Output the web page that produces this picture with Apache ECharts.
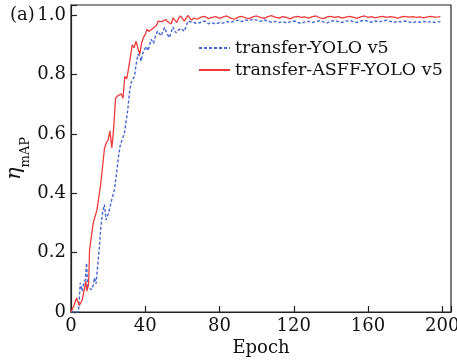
<!DOCTYPE html>
<html>
<head>
<meta charset="utf-8">
<script src="https://cdn.jsdelivr.net/npm/echarts@6/dist/echarts.min.js"></script>
<style>
  html, body {margin: 0; padding: 0; background: #fff;}
  #chart {width: 457px; height: 360px;}
</style>
</head>
<body>
<div id="chart"></div>
<script>
// transfer-ASFF-YOLO v5 (red, solid)
const asffEpoch = [0, 1.5, 3, 4.5, 6, 7, 8, 8.5, 9, 9.5, 10, 12, 14, 16, 17, 18, 19, 20, 21, 22, 23, 24, 25, 26, 27, 28, 29, 30, 31, 32, 33, 34, 35, 36, 37, 38, 39, 40, 41, 42, 43, 44, 45, 46, 47, 48, 49, 50, 51, 52, 53, 54, 55, 56, 57, 58, 59, 60, 61, 62, 63, 64, 65,
  66, 68, 70, 72, 74, 76, 78, 80, 82, 84, 86, 88, 90, 92, 94, 96, 98, 100, 102, 104, 106, 108, 110, 112, 114, 116, 118, 120, 122, 124, 126, 128, 130, 132, 134, 136, 138, 140, 142, 144, 146, 148, 150, 152, 154, 156, 158, 160, 162, 164, 166, 168, 170, 172, 174, 176, 178, 180, 182, 184, 186, 188, 190, 192, 194, 196, 198, 199];
const asffMap = [0, 0.02, 0.047, 0.022, 0.04, 0.036, 0.103, 0.07, 0.064, 0.095, 0.21, 0.30, 0.345, 0.43, 0.49, 0.55, 0.57, 0.58, 0.61, 0.553, 0.62, 0.72, 0.727, 0.73, 0.735, 0.72, 0.794, 0.785, 0.82, 0.86, 0.90, 0.89, 0.912, 0.89, 0.867, 0.905, 0.924, 0.935, 0.952, 0.945, 0.94, 0.955, 0.96, 0.965, 0.98, 0.975, 0.978, 0.973, 0.985, 0.978, 0.98, 0.97, 0.991, 0.982, 0.975, 0.99, 0.997, 0.988, 0.98, 0.99, 0.999, 0.99, 0.983,
  0.990, 0.986, 0.993, 0.996, 0.988, 0.992, 0.995, 0.989, 0.994, 0.997, 0.990, 0.986, 0.993, 0.996, 0.991, 0.988, 0.994, 0.997, 0.992, 0.989, 0.995, 0.998, 0.993, 0.990, 0.995, 0.992, 0.987, 0.993, 0.996, 0.992, 0.994, 0.990, 0.995, 0.997, 0.991, 0.988, 0.994, 0.996, 0.992, 0.995, 0.990, 0.993, 0.996, 0.993, 0.989, 0.994, 0.997, 0.992, 0.995, 0.991, 0.994, 0.996, 0.992, 0.995, 0.993, 0.990, 0.994, 0.996, 0.993, 0.995, 0.992, 0.994, 0.991, 0.994, 0.996, 0.993, 0.994, 0.995];

// transfer-YOLO v5 (blue, dashed)
const yoloEpoch = [0, 2, 4, 5, 6, 6.6, 7.7, 8.4, 9, 10, 11, 12, 12.6, 13.5, 14.4, 15.3, 16, 17, 18, 18.9, 20, 20.7, 22, 23.4, 24.6, 25.5, 26.4, 27.5, 28.8, 30.6, 31.5, 32.4, 34.2, 35, 36, 37, 37.8, 38.5, 40.5, 41.5, 43.2, 44.5, 45.5, 46.7, 48.5, 50.4, 51.5, 53, 54.9, 56.6, 58, 59.4, 61, 63,
  64, 66, 68, 70, 72, 74, 76, 78, 80, 82, 84, 86, 88, 90, 92, 94, 96, 98, 100, 102, 104, 106, 108, 110, 112, 114, 116, 118, 120, 122, 124, 126, 128, 130, 132, 134, 136, 138, 140, 142, 144, 146, 148, 150, 152, 154, 156, 158, 160, 162, 164, 166, 168, 170, 172, 174, 176, 178, 180, 182, 184, 186, 188, 190, 192, 194, 196, 198, 199];
const yoloMap = [0, 0, 0, 0.098, 0.07, 0.09, 0.109, 0.165, 0.086, 0.08, 0.075, 0.09, 0.115, 0.095, 0.10, 0.22, 0.28, 0.334, 0.362, 0.31, 0.33, 0.345, 0.38, 0.412, 0.469, 0.52, 0.558, 0.58, 0.603, 0.682, 0.74, 0.772, 0.794, 0.83, 0.868, 0.86, 0.845, 0.87, 0.895, 0.88, 0.918, 0.905, 0.93, 0.946, 0.93, 0.958, 0.94, 0.924, 0.96, 0.94, 0.95, 0.955, 0.945, 0.98,
  0.978, 0.975, 0.972, 0.976, 0.980, 0.971, 0.974, 0.970, 0.975, 0.973, 0.978, 0.975, 0.980, 0.983, 0.978, 0.984, 0.981, 0.986, 0.983, 0.979, 0.984, 0.980, 0.976, 0.979, 0.975, 0.978, 0.974, 0.977, 0.980, 0.976, 0.972, 0.977, 0.979, 0.975, 0.978, 0.981, 0.977, 0.974, 0.979, 0.982, 0.978, 0.975, 0.979, 0.982, 0.978, 0.975, 0.980, 0.983, 0.979, 0.976, 0.980, 0.977, 0.980, 0.983, 0.979, 0.976, 0.979, 0.977, 0.980, 0.977, 0.974, 0.978, 0.976, 0.979, 0.976, 0.978, 0.975, 0.977, 0.978];

const xTicks = [0, 40, 80, 120, 160, 200];
const yTicks = [0, 0.2, 0.4, 0.6, 0.8, 1.0];

const pairs = (xs, ys) => xs.map((x, i) => [x, ys[i]]);
const font = "DejaVu Serif";
const ink = "#111";

const chart = echarts.init(document.getElementById("chart"));
chart.setOption({
  animation: false,
  textStyle: {fontFamily: font, color: ink},
  title: {
    text: "(a)",
    left: 10,
    top: 6,
    padding: 0,
    textStyle: {fontFamily: font, fontSize: 18, fontWeight: "normal", color: ink}
  },
  grid: {
    left: 71,
    right: 6,
    top: 5,
    bottom: 48,
    outerBoundsMode: "none",
    containLabel: false,
    show: true,
    borderColor: "#222",
    borderWidth: 1.2
  },
  legend: {
    orient: "vertical",
    left: 198,
    top: 39,
    padding: 0,
    itemWidth: 31,
    itemHeight: 14,
    itemGap: 4,
    itemStyle: {color: "rgba(0,0,0,0)", borderColor: "rgba(0,0,0,0)", borderWidth: 0},
    textStyle: {fontFamily: font, fontSize: 17.5, color: ink},
    data: ["transfer-YOLO v5", "transfer-ASFF-YOLO v5"]
  },
  xAxis: {
    type: "value",
    min: 0,
    max: 204.7,
    interval: 40,
    name: "Epoch",
    nameLocation: "middle",
    nameGap: 27,
    nameMoveOverlap: false,
    nameTextStyle: {fontFamily: font, fontSize: 18, color: ink},
    axisLine: {lineStyle: {color: "#222", width: 1.2}},
    axisTick: {inside: true, length: 6, lineStyle: {color: "#222", width: 1.2}},
    axisLabel: {
      fontFamily: font, fontSize: 18, color: ink, margin: 5,
      formatter: v => xTicks.includes(v) ? String(v) : ""
    },
    splitLine: {show: false}
  },
  yAxis: {
    type: "value",
    min: 0,
    max: 1.034,
    interval: 0.2,
    name: "{eta|η}{sub|mAP}",
    nameLocation: "middle",
    nameGap: 39,
    nameMoveOverlap: false,
    nameTextStyle: {
      rich: {
        eta: {fontFamily: font, fontStyle: "italic", fontSize: 21, color: ink, verticalAlign: "bottom", padding: [0, 0, 7, 0]},
        sub: {fontFamily: font, fontSize: 13, color: ink, verticalAlign: "bottom"}
      }
    },
    axisLine: {lineStyle: {color: "#222", width: 1.2}},
    axisTick: {inside: true, length: 6, lineStyle: {color: "#222", width: 1.2}},
    axisLabel: {
      fontFamily: font, fontSize: 18, color: ink, margin: 5,
      formatter: v => {
        const t = yTicks.find(k => Math.abs(k - v) < 1e-6);
        if (t === undefined) return "";
        return t === 0 ? "0" : t.toFixed(1);
      }
    },
    splitLine: {show: false}
  },
  series: [
    {
      name: "transfer-YOLO v5",
      type: "line",
      symbol: "none",
      data: pairs(yoloEpoch, yoloMap),
      lineStyle: {color: "#4466d4", width: 1.4, type: [3, 2]},
      itemStyle: {color: "#4466d4"},
      z: 2
    },
    {
      name: "transfer-ASFF-YOLO v5",
      type: "line",
      symbol: "none",
      data: pairs(asffEpoch, asffMap),
      lineStyle: {color: "#ef3b3b", width: 1.3},
      itemStyle: {color: "#ef3b3b"},
      z: 3
    }
  ]
});
</script>
</body>
</html>
